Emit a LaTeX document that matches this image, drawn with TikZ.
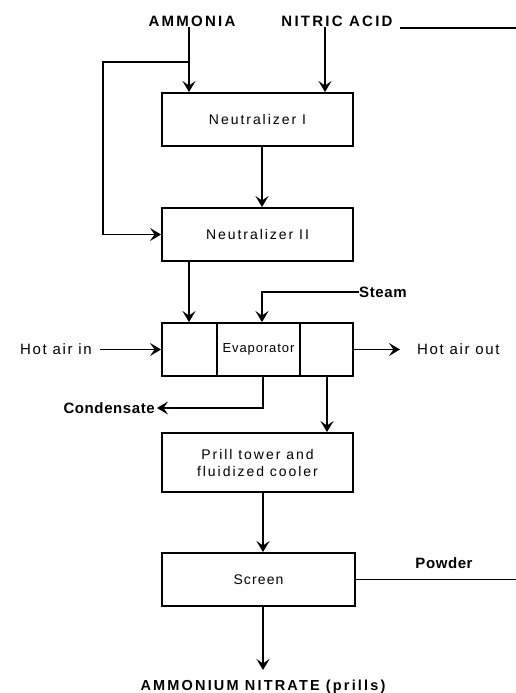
\documentclass[tikz,border=0pt]{standalone}
\usepackage{fontspec}
\setmainfont{Liberation Sans}
\newfontfamily\capsf{Liberation Sans}[LetterSpace=15]
\newfontfamily\boxf{Liberation Sans}[LetterSpace=14]
\newfontfamily\airf{Liberation Sans}[LetterSpace=11]
\newfontfamily\strf{Liberation Sans}[LetterSpace=4]
\newfontfamily\evf{Liberation Sans}[LetterSpace=7]
\newfontfamily\scrf{Liberation Sans}[LetterSpace=8]
\usetikzlibrary{arrows.meta}
\begin{document}
\begin{tikzpicture}[x=1pt,y=-1pt,
  box/.style={draw,line width=1.9pt,minimum height=53pt,inner sep=0pt,align=center,font=\boxf\fontsize{14}{17}\selectfont},
  airlbl/.style={inner sep=0pt,font=\airf\fontsize{15}{18}\selectfont},
  caplbl/.style={inner sep=0pt,font=\capsf\fontsize{15}{18}\selectfont\bfseries},
  strlbl/.style={inner sep=0pt,font=\strf\fontsize{15}{18}\selectfont\bfseries},
  flow/.style={line width=1.9pt,-{Stealth[length=11pt,width=13pt,inset=4.5pt]}},
  plain/.style={line width=1.9pt}]
\useasboundingbox (0,0) rectangle (516,693);
% feeds
\node[caplbl] (ammonia) at (192,21) {AMMONIA};
\node[caplbl] (nitric) at (337,21) {NITRIC ACID};
\coordinate (nl) at (400,28);
\coordinate (nr) at (516,28);
% boxes
\node[box,minimum width=191pt] (n1) at (257.5,119.5) {Neutralizer I};
\node[box,minimum width=191pt] (n2) at (257.5,234.5) {Neutralizer II};
\node[box,minimum width=55pt] (evL) at (189.5,349.5) {};
\node[box,minimum width=83pt,font=\evf\fontsize{13}{15}\selectfont] (evM) at (258.5,349.5) {Evaporator};
\node[box,minimum width=53pt] (evR) at (326.5,349.5) {};
\node[box,minimum width=191pt,minimum height=59pt] (prill) at (257.5,462.5) {Prill tower and\\fluidized cooler};
\node[box,minimum width=193pt,font=\scrf\fontsize{14}{17}\selectfont] (screen) at (258.5,579.5) {Screen};
% labels
\node[strlbl,anchor=west] (steam) at (359,292) {Steam};
\node[airlbl,anchor=east] (hotin) at (92,349.5) {Hot air in};
\node[airlbl,anchor=west] (hotout) at (417,349.5) {Hot air out};
\node[strlbl,anchor=east] (cond) at (155,408) {Condensate};
\node[strlbl] (powder) at (444,563) {Powder};
\node[caplbl,font=\capsf\fontsize{14.5}{18}\selectfont\bfseries] (product) at (263,687) {AMMONIUM NITRATE (prills)};
\coordinate (br) at (189,62);
\coordinate (bl) at (103,62);
\coordinate (hinl) at (100,349.5);
\coordinate (houtr) at (400,349.5);
\coordinate (cdn) at (263,408);
\coordinate (pw) at (516,579.5);
\coordinate (pe) at (263,670);
\coordinate (ea) at (189,0);
\coordinate (eb) at (327,0);
% connectors
\draw[plain] (nl) -- (nr);
\draw[flow] (ammonia.south -| ea) -- (ea |- n1.north);
\draw[flow] (br) -- (bl) -- (bl |- n2.west) -- (n2.west);
\draw[flow] ([xshift=-12pt]nitric.south) -- ([xshift=-12pt]nitric.south |- n1.north);
\draw[flow] ([xshift=4.5pt]n1.south) -- ([xshift=4.5pt]n2.north);
\draw[flow] (n2.south -| ea) -- (ea |- evL.north);
\draw[flow] (steam.west) -| ([xshift=3.5pt]evM.north);
\draw[flow] (hinl) -- (evL.west);
\draw[flow] (evR.east) -- (houtr);
\draw[flow] (evM.south -| cdn) -- (cdn) -- ([xshift=2pt]cond.east);
\draw[flow] (evR.south -| eb) -- (eb |- prill.north);
\draw[flow] ([xshift=5.5pt]prill.south) -- ([xshift=5.5pt]prill.south |- screen.north);
\draw[plain] (screen.east) -- (pw);
\draw[flow] (screen.south -| pe) -- (pe);
\end{tikzpicture}
\end{document}
